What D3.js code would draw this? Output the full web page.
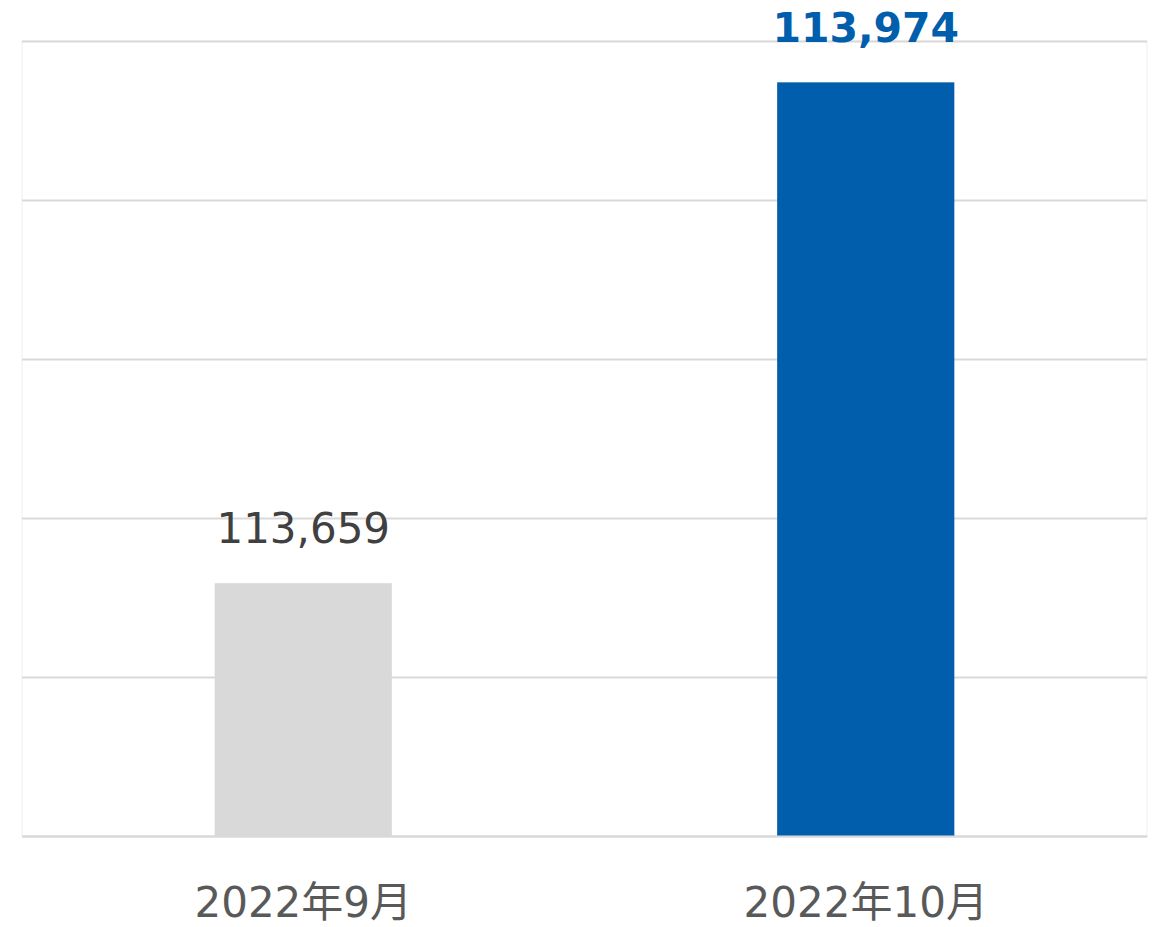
<!DOCTYPE html>
<html>
<head>
<meta charset="utf-8">
<script src="https://cdn.jsdelivr.net/npm/d3@7"></script>
<style>
  html, body { margin: 0; padding: 0; background: #ffffff; }
  svg { display: block; }
</style>
</head>
<body>
<svg id="chart" width="1154" height="927"></svg>
<script>
const categories = ["2022年9月", "2022年10月"];
const values = [113659, 113974];
const valueLabels = ["113,659", "113,974"];
const yTicks = [113500, 113600, 113700, 113800, 113900, 114000];

const svg = d3.select("#chart");
const margin = { left: 22, right: 7, top: 41, bottom: 91 };
const width = 1154, height = 927;
const innerW = width - margin.left - margin.right;
const innerH = height - margin.top - margin.bottom;

const g = svg.append("g").attr("transform", `translate(${margin.left},${margin.top})`);

const x = d3.scaleBand().domain(categories).range([0, innerW]).paddingInner(0.685).paddingOuter(0.3425);
const y = d3.scaleLinear().domain([113500, 114000]).range([innerH, 0]);

// plot border (faint)
g.append("rect")
  .attr("x", 0).attr("y", 0).attr("width", innerW).attr("height", innerH)
  .attr("fill", "none").attr("stroke", "#f0f0f0").attr("stroke-width", 1);

// gridlines
g.append("g")
  .call(d3.axisLeft(y).tickValues(yTicks).tickSize(-innerW).tickFormat(""))
  .call(s => s.select(".domain").remove())
  .call(s => s.selectAll(".tick line").attr("stroke", "#d9d9d9").attr("stroke-width", 2));

const barColors = ["#d9d9d9", "#005eac"];

g.selectAll("rect.bar")
  .data(values)
  .join("rect")
  .attr("class", "bar")
  .attr("x", (d, i) => x(categories[i]))
  .attr("width", x.bandwidth())
  .attr("y", d => y(d))
  .attr("height", d => innerH - y(d))
  .attr("fill", (d, i) => barColors[i]);

// value labels
g.selectAll("text.val")
  .data(values)
  .join("text")
  .attr("class", "val")
  .attr("x", (d, i) => x(categories[i]) + x.bandwidth() / 2)
  .attr("y", d => y(d) - 40)
  .attr("text-anchor", "middle")
  .attr("font-family", "'DejaVu Sans', Verdana, sans-serif")
  .attr("font-size", (d, i) => i === 1 ? 41 : 42)
  .attr("font-weight", (d, i) => i === 1 ? "bold" : "normal")
  .attr("fill", (d, i) => i === 1 ? "#005eac" : "#404040")
  .text((d, i) => valueLabels[i]);

// x axis (category labels)
const xAxis = g.append("g")
  .attr("transform", `translate(0,${innerH})`)
  .call(d3.axisBottom(x).tickSize(0).tickPadding(0));
xAxis.select(".domain").attr("stroke", "#d9d9d9").attr("stroke-width", 2);
xAxis.selectAll(".tick text")
  .attr("dy", 0)
  .attr("y", 81)
  .attr("font-family", "'DejaVu Sans', 'Noto Sans CJK JP', sans-serif")
  .attr("font-size", 42)
  .attr("fill", "#595959");
</script>
</body>
</html>
